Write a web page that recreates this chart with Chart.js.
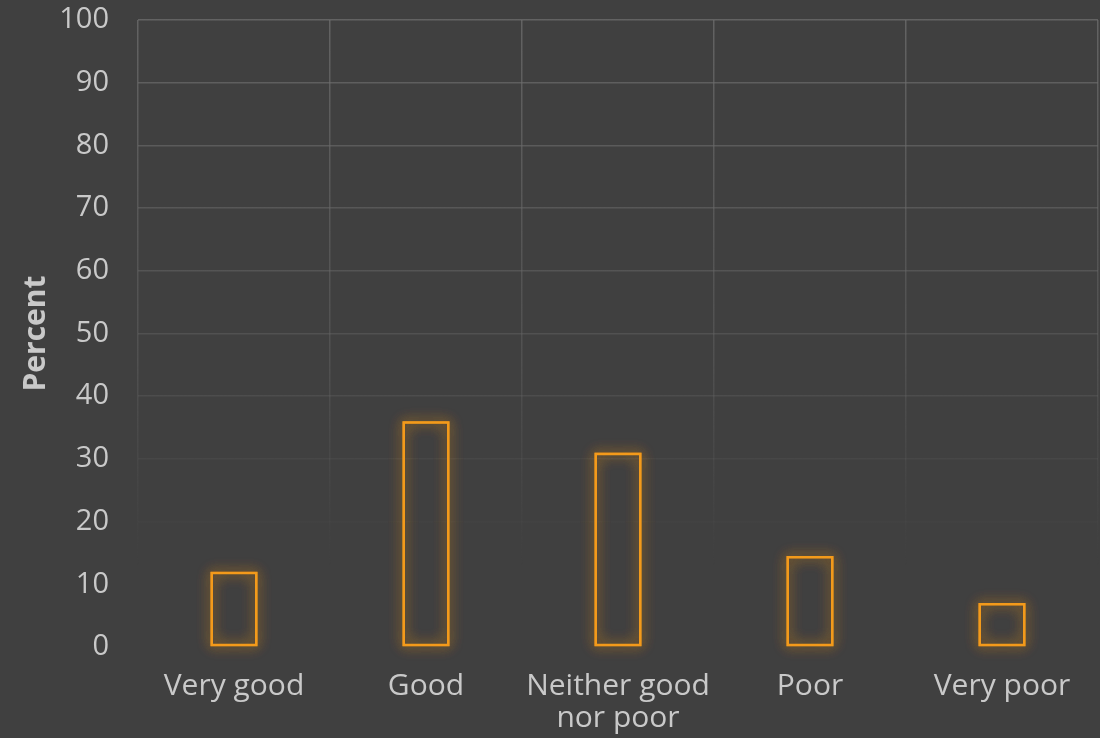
<!DOCTYPE html>
<html>
<head>
<meta charset="utf-8">
<script src="https://cdn.jsdelivr.net/npm/chart.js@4"></script>
<style>
  html, body { margin: 0; padding: 0; background: #404040; }
  #wrap { width: 1100px; height: 738px; }
</style>
</head>
<body>
<div id="wrap"><canvas id="ratingChart"></canvas></div>
<script>
// data
const categories = ['Very good', 'Good', ['Neither good', 'nor poor'], 'Poor', 'Very poor'];
const percentValues = [12, 36, 31, 14.5, 7];
const yTicks = { min: 0, max: 100, step: 10 };

const ORANGE = '#f39a1b';
const TEXT = '#c9c9c9';

// grid lines fade out towards the bottom of the plot
function gridFade(context) {
  const chart = context.chart;
  const area = chart.chartArea;
  if (!area) return '#5a5a5a';
  const g = chart.ctx.createLinearGradient(0, area.top, 0, area.bottom);
  g.addColorStop(0, 'rgba(110,110,110,0.75)');
  g.addColorStop(0.55, 'rgba(100,100,100,0.45)');
  g.addColorStop(0.87, 'rgba(90,90,90,0.0)');
  g.addColorStop(1, 'rgba(90,90,90,0.0)');
  return g;
}

// soft orange glow behind each bar outline; bar geometry comes from the bar elements
const glowPlugin = {
  id: 'glow',
  beforeDatasetsDraw(chart) {
    const ctx = chart.ctx;
    ctx.save();
    ctx.strokeStyle = 'rgba(243,154,27,0.45)';
    ctx.lineWidth = 2;
    ctx.shadowColor = 'rgba(243,154,27,1)';
    ctx.shadowBlur = 14;
    chart.getDatasetMeta(0).data.forEach(bar => {
      const { x, y, base, width } = bar.getProps(['x', 'y', 'base', 'width'], true);
      for (let i = 0; i < 3; i++) {
        ctx.strokeRect(x - width / 2 + 1, y + 1, width - 2, base - y - 2);
      }
    });
    ctx.restore();
  }
};

new Chart(document.getElementById('ratingChart'), {
  type: 'bar',
  data: {
    labels: categories,
    datasets: [{
      data: percentValues,
      backgroundColor: 'rgba(0,0,0,0)',
      borderColor: ORANGE,
      borderWidth: 2.5,
      borderSkipped: false,
      barPercentage: 0.245,
      categoryPercentage: 1
    }]
  },
  plugins: [glowPlugin],
  options: {
    responsive: true,
    maintainAspectRatio: false,
    animation: false,
    layout: { padding: { top: 20, right: 2, left: 18, bottom: 0 } },
    plugins: { legend: { display: false }, tooltip: { enabled: false } },
    scales: {
      x: {
        grid: { color: gridFade, lineWidth: 1.5, drawTicks: false, offset: true },
        border: { display: false },
        ticks: {
          color: TEXT,
          font: { family: 'Open Sans', size: 30, lineHeight: 1.07 },
          padding: 23,
          maxRotation: 0
        },
        afterFit(scale) {
          scale.height = 91;
          scale.paddingLeft = 0;
          scale.paddingRight = 0;
        }
      },
      y: {
        min: yTicks.min,
        max: yTicks.max,
        grid: { color: gridFade, lineWidth: 1.5, drawTicks: false },
        border: { display: false },
        ticks: {
          stepSize: yTicks.step,
          color: TEXT,
          font: { family: 'Open Sans', size: 29 },
          padding: 29
        },
        title: {
          display: true,
          text: 'Percent',
          color: TEXT,
          font: { family: 'Open Sans', size: 30, weight: 'bold' },
          padding: 0
        },
        afterFit(scale) {
          scale.width = 120;
          scale.paddingTop = 0;
          scale.paddingBottom = 0;
        }
      }
    }
  }
});
</script>
</body>
</html>
